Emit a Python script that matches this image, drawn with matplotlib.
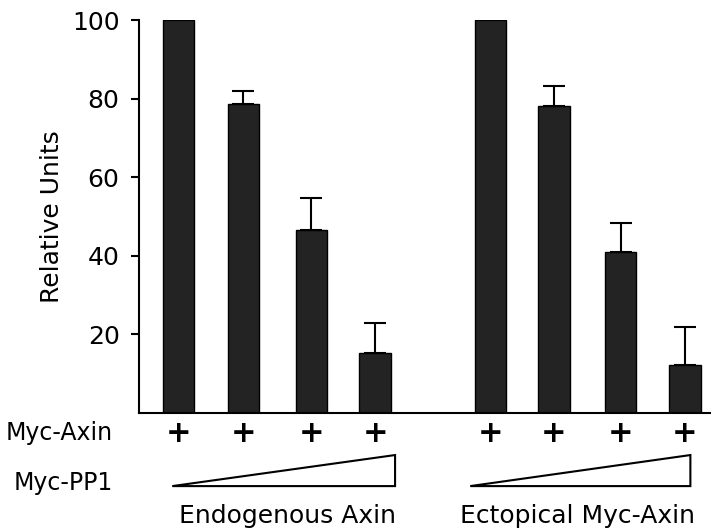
import matplotlib
matplotlib.use('Agg')
import matplotlib.pyplot as plt
from matplotlib.patches import Polygon

# values
groups = ['Endogenous Axin', 'Ectopical Myc-Axin']
values = [100, 78.6, 46.6, 15.3, 100, 78.1, 41.0, 12.2]
errors = [0, 3.4, 8.0, 7.7, 0, 5.1, 7.3, 9.7]
row_labels = ['Myc-Axin', 'Myc-PP1']

xpos = [0, 0.98, 2.0, 2.96, 4.69, 5.65, 6.65, 7.62]

plt.rcParams['font.family'] = ['DejaVu Sans']
fig = plt.figure(figsize=(7.11, 5.29), dpi=100)
ax = fig.add_axes([139/711, 116/529, 1 - 139/711, 393/529])

ax.bar(xpos, values, width=0.47, color='#232323', edgecolor='black', linewidth=1)
err_x = [x for x, e in zip(xpos, errors) if e > 0]
err_top = [v for v, e in zip(values, errors) if e > 0]
err_e = [e for e in errors if e > 0]
ax.errorbar(err_x, err_top, yerr=[[0]*len(err_e), err_e], fmt='none',
            ecolor='black', elinewidth=1.5, capsize=8, capthick=1.5)

ax.set_ylim(0, 100)
ax.set_xlim(-0.59, 8.01)
ax.set_yticks([20, 40, 60, 80, 100])
ax.set_xticks([])
ax.tick_params(axis='y', labelsize=18, length=6, width=1.5, pad=8)
ax.set_ylabel('Relative Units', fontsize=18, labelpad=6)
for s in ['top', 'right']:
    ax.spines[s].set_visible(False)
for s in ['left', 'bottom']:
    ax.spines[s].set_linewidth(1.5)

tr = ax.get_xaxis_transform()
fig.text(6/711, 1 - 433/529, row_labels[0], fontsize=17, ha='left', va='center')
fig.text(14/711, 1 - 483/529, row_labels[1], fontsize=17, ha='left', va='center')
for x in xpos:
    ax.text(x, -0.051, '+', transform=tr, fontsize=22, fontweight='bold',
            ha='center', va='center', clip_on=False)

tri_bottom, tri_top = -0.186, -0.107
for x0, x1 in [(-0.09, 3.26), (4.39, 7.7)]:
    ax.add_patch(Polygon([(x0, tri_bottom), (x1, tri_top), (x1, tri_bottom)],
                         closed=True, fill=False, edgecolor='black', linewidth=1.5,
                         transform=tr, clip_on=False))

ax.text(1.65, -0.262, groups[0], transform=tr, fontsize=18, ha='center', va='center')
ax.text(6.0, -0.262, groups[1], transform=tr, fontsize=18, ha='center', va='center')

fig.savefig('out.png', dpi=100)
